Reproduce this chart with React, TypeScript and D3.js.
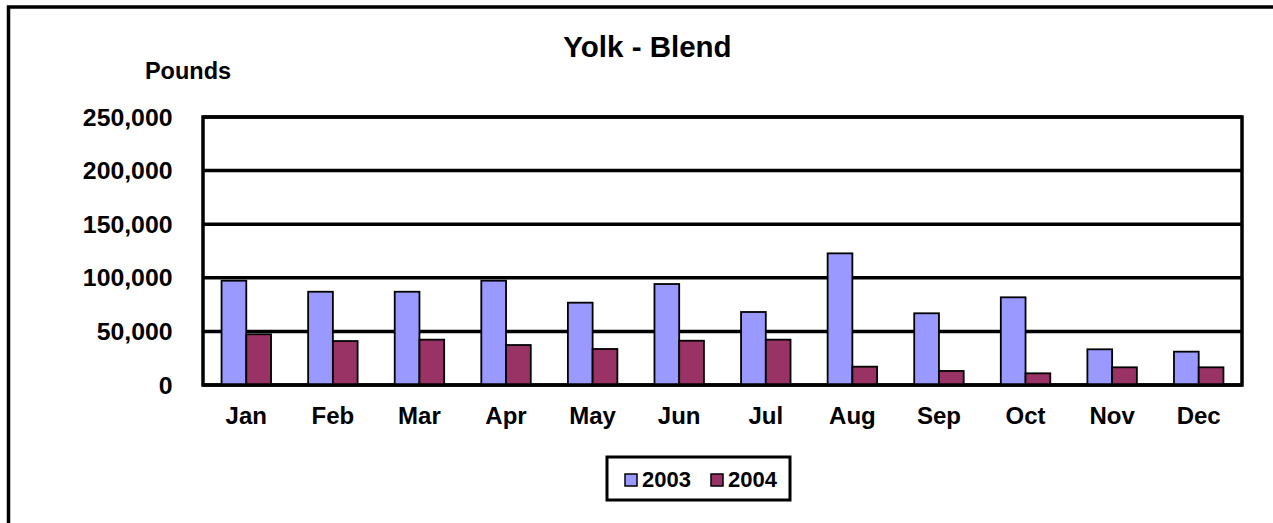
import * as d3 from 'd3';

const months = ['Jan', 'Feb', 'Mar', 'Apr', 'May', 'Jun', 'Jul', 'Aug', 'Sep', 'Oct', 'Nov', 'Dec'];
const series = ['2003', '2004'];
const values2003 = [97300, 87000, 87000, 97300, 76800, 94200, 68100, 122800, 66900, 81800, 33300, 31100];
const values2004 = [47300, 41000, 42300, 37300, 33600, 41300, 42300, 17100, 13100, 10900, 16500, 16500];
const yTicks = [0, 50000, 100000, 150000, 200000, 250000];
const colors = ['#9999FF', '#993366'];

const W = 1273;
const H = 523;
const font = 'Arial, "Liberation Sans", Helvetica, sans-serif';

export default function App() {
  // plot area
  const left = 203, right = 1242, top = 117, bottom = 385;

  const x = d3.scaleBand<string>().domain(months).range([left, right]).padding(0);
  const y = d3.scaleLinear().domain([0, 250000]).range([bottom, top]);

  // Excel style gap width 150%
  const barW = x.step() / 3.5;
  const sub = d3.scaleBand<string>().domain(series).range([0.75 * barW, 2.75 * barW]).padding(0);

  const fmt = d3.format(',');
  const data = [values2003, values2004];

  return (
    <div style={{ position: 'absolute', left: 0, top: 0 }}>
      <svg width={W} height={H} style={{ display: 'block', background: '#fff' }} fontFamily={font}>
        {/* outer chart border */}
        <rect x={8.5} y={7} width={1400} height={700} fill="none" stroke="#000" strokeWidth={3.5} />

        <text x={647.5} y={56.5} textAnchor="middle" fontSize={29.5} fontWeight="bold">Yolk - Blend</text>
        <text x={188} y={78.5} textAnchor="middle" fontSize={23.5} fontWeight="bold">Pounds</text>

        {/* gridlines */}
        {yTicks.map(t => (
          <line key={t} x1={left} x2={right} y1={y(t)} y2={y(t)} stroke="#000" strokeWidth={3.5} />
        ))}

        {/* bars */}
        {data.map((vals, si) =>
          vals.map((v, i) => (
            <rect
              key={`${si}-${i}`}
              x={(x(months[i]) ?? 0) + (sub(series[si]) ?? 0)}
              y={y(v)}
              width={sub.bandwidth()}
              height={y(0) - y(v)}
              fill={colors[si]}
              stroke="#000"
              strokeWidth={1.8}
            />
          ))
        )}

        {/* plot border */}
        <rect x={left} y={top} width={right - left} height={bottom - top} fill="none" stroke="#000" strokeWidth={3.5} />

        {/* y axis labels */}
        {yTicks.map(t => (
          <text key={t} x={172.5} y={y(t) + 8.5} textAnchor="end" fontSize={24.8} fontWeight="bold">{fmt(t)}</text>
        ))}

        {/* x axis labels */}
        {months.map(m => (
          <text key={m} x={(x(m) ?? 0) + x.bandwidth() / 2} y={423.5} textAnchor="middle" fontSize={24} fontWeight="bold">{m}</text>
        ))}

        {/* legend */}
        <rect x={607} y={457} width={183} height={43} fill="#fff" stroke="#000" strokeWidth={3} />
        {series.map((s, i) => (
          <g key={s} transform={`translate(${625 + i * 86},0)`}>
            <rect x={0} y={474} width={12} height={12} fill={colors[i]} stroke="#000" strokeWidth={1.5} />
            <text x={17} y={486.5} fontSize={22} fontWeight="bold">{s}</text>
          </g>
        ))}
      </svg>
    </div>
  );
}
